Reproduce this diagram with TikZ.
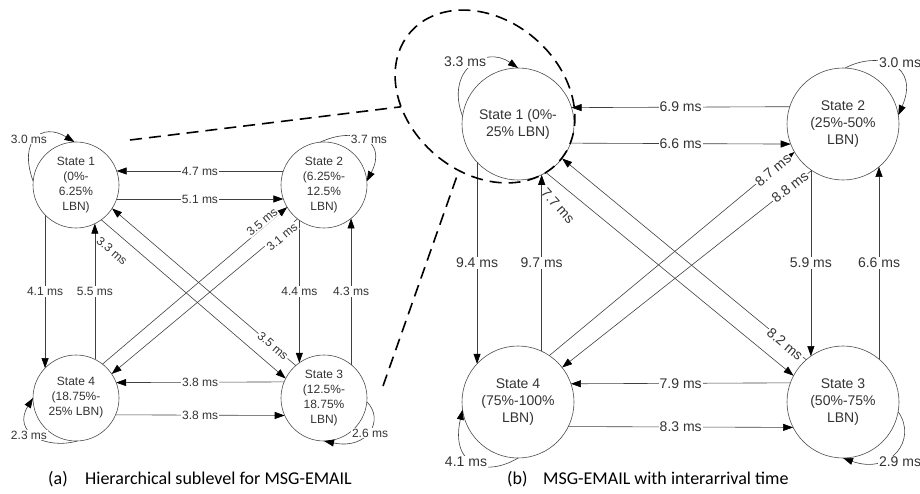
\documentclass[tikz,border=0pt]{standalone}
\usepackage{fontspec}
\setmainfont{Liberation Sans}
\newfontfamily\capfont{Carlito}
\usetikzlibrary{arrows.meta,shapes.geometric}
\begin{document}
\begin{tikzpicture}[x=1pt,y=-1pt,
  ln/.style={draw=black!75, line width=0.6pt},
  arr/.style={ln, -{Triangle[length=10pt,width=7pt,color=black]}},
  stA/.style={circle, draw=black!70, line width=0.6pt, minimum size=86pt, inner sep=0pt, outer sep=0pt, align=center, font=\fontsize{12}{15}\selectfont, text=black!80},
  stB/.style={stA, minimum size=112pt, font=\fontsize{14}{17}\selectfont},
  lblA/.style={fill=white, inner sep=1pt, font=\fontsize{12}{14}\selectfont, text=black!80},
  lblB/.style={lblA, font=\fontsize{14}{16}\selectfont},
  zoomline/.style={draw=black, line width=1.6pt, dash pattern=on 12pt off 7pt},
  capstyle/.style={anchor=base west, inner sep=0pt, font=\capfont\fontsize{18}{21}\selectfont, text=black}
]
\useasboundingbox (0,0) rectangle (920,494);

% ---------- left diagram ----------
\node[stA] (a1) at (76,185) {State 1\\(0\%-\\6.25\%\\LBN)};
\node[stA] (a2) at (324,185) {State 2\\(6.25\%-\\12.5\%\\LBN)};
\node[stA] (a3) at (324,398) {State 3\\(12.5\%-\\18.75\%\\LBN)};
\node[stA] (a4) at (76,398) {State 4\\(18.75\%-\\25\% LBN)};

\draw[arr] (a2.161) -- node[lblA] (la47) {4.7 ms} (a1.19);
\draw[arr] (a1.-19) -- node[lblA] (la51) {5.1 ms} (a2.-161);
\draw[arr] (a3.158.2) -- node[lblA] (la38a) {3.8 ms} (a4.21.8);
\draw[arr] (a4.-23.3) -- node[lblA] (la38b) {3.8 ms} (a3.-156.7);

\draw[arr] (a1.-136) -- node[lblA] (la41) {4.1 ms} (a4.136);
\draw[arr] (a4.64) -- node[lblA] (la55) {5.5 ms} (a1.-64);
\draw[arr] (a2.-125) -- node[lblA] (la44) {4.4 ms} (a3.125);
\draw[arr] (a3.51) -- node[lblA] (la43) {4.3 ms} (a2.-51);

\draw[arr] (a1.-54) -- (a3.153);
\draw[arr] (a3.131) -- (a1.-33);
\draw[arr] (a4.52) -- (a2.211);
\draw[arr] (a2.232) -- (a4.34);
\node[lblA, rotate=40] (la35r) at (262,222) {3.5 ms};
\node[lblA, rotate=40] (la31) at (282,237) {3.1 ms};
\node[lblA, rotate=-41] (la35p) at (273,346) {3.5 ms};
\node[lblA, fill=none, rotate=-41] (la33) at (112,251) {3.3 ms};

\draw[arr] (a1.175) .. controls (18,140) and (42,122) .. (a1.92);
\node[lblA] (la30) at (29,139) {3.0 ms};
\draw[arr] (a2.95) .. controls (355,126) and (388,140) .. (a2.5);
\node[lblA] (la37) at (369,139) {3.7 ms};
\draw[arr] (a4.-88) .. controls (45,450) and (12,432) .. (a4.180);
\node[lblA] (la23) at (29,435) {2.3 ms};
\draw[arr] (a3.-5) .. controls (385,420) and (368,450) .. (a3.-90);
\node[lblA] (la26) at (370,433) {2.6 ms};

% ---------- right diagram ----------
\node[stB] (b1) at (518,124) {State 1 (0\%-\\25\% LBN)};
\node[stB] (b2) at (843,124) {State 2\\(25\%-50\%\\LBN)};
\node[stB] (b3) at (843,402) {State 3\\(50\%-75\%\\LBN)};
\node[stB] (b4) at (518,402) {State 4\\(75\%-100\%\\LBN)};

\draw[arr] (b2.162.3) -- node[lblB] (lb69) {6.9 ms} (b1.17.7);
\draw[arr] (b1.-20.9) -- node[lblB] (lb66a) {6.6 ms} (b2.-159.1);
\draw[arr] (b3.160.2) -- node[lblB] (lb79) {7.9 ms} (b4.19.8);
\draw[arr] (b4.-26.5) -- node[lblB] (lb83) {8.3 ms} (b3.-153.5);

\draw[arr] (b1.-137) -- node[lblB] (lb94) {9.4 ms} (b4.137);
\draw[arr] (b4.65) -- node[lblB] (lb97) {9.7 ms} (b1.-65);
\draw[arr] (b2.-125) -- node[lblB] (lb59) {5.9 ms} (b3.125);
\draw[arr] (b3.50) -- node[lblB] (lb66b) {6.6 ms} (b2.-50);

\draw[arr] (b3.131) -- (b1.-38);
\draw[arr] (b1.-60) -- (b3.152);
\draw[arr] (b4.56) -- (b2.210);
\draw[arr] (b2.236) -- (b4.38);
\node[lblB, rotate=-40] (lb82) at (785,344) {8.2 ms};
\node[lblB, fill=none, rotate=-48] (lb77) at (558,206) {7.7 ms};
\node[lblB, rotate=40] (lb87) at (773,170) {8.7 ms};
\node[lblB, rotate=38] (lb88) at (790,187) {8.8 ms};

\draw[arr] (b1.172) .. controls (445,70) and (485,45) .. (b1.90);
\node[lblB] (lb33) at (465,62) {3.3 ms};
\draw[arr] (b2.88) .. controls (880,50) and (920,65) .. (b2.9);
\node[lblB] (lb30) at (900,63) {3.0 ms};
\draw[arr] (b4.-90) .. controls (485,478) and (450,465) .. (b4.188);
\node[lblB] (lb41) at (466,462) {4.1 ms};
\draw[arr] (b3.-10) .. controls (918,440) and (890,475) .. (b3.-90);
\node[lblB] (lb29) at (900,462) {2.9 ms};

% ---------- zoom indication ----------
\node[ellipse, zoomline, minimum width=197pt, minimum height=153pt, inner sep=0pt, outer sep=0pt, rotate=-40.4] (zoom) at (485,96.5) {};
\coordinate (zA) at (130,140);
\coordinate (zB) at (383,386);
\draw[zoomline] (zA) -- (zoom);
\draw[zoomline] (zB) -- (zoom);

% ---------- captions ----------
\node[capstyle] (capA) at (48,484) {\makebox[37pt][l]{(a)}Hierarchical sublevel for MSG-EMAIL};
\node[capstyle] (capB) at (507,484) {\makebox[36pt][l]{(b)}MSG-EMAIL with interarrival time};
\end{tikzpicture}
\end{document}
